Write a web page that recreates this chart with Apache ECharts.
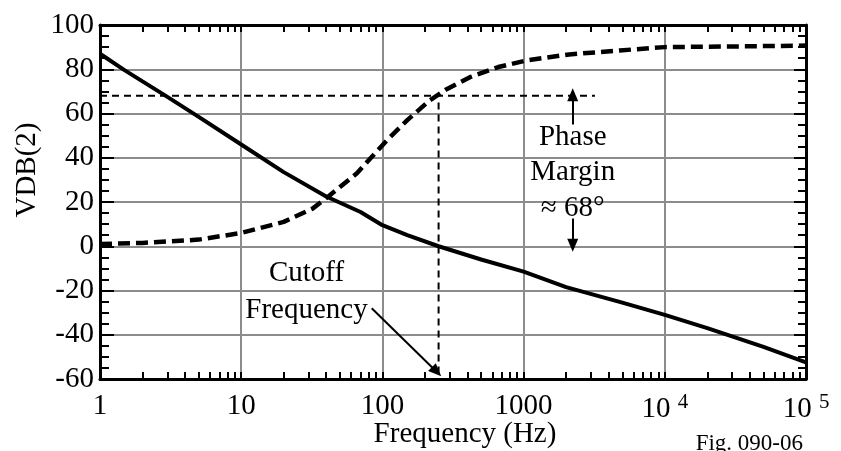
<!DOCTYPE html>
<html><head><meta charset="utf-8">
<script src="https://cdn.jsdelivr.net/npm/echarts@6/dist/echarts.min.js"></script>
<style>html,body{margin:0;padding:0;background:#fff}#c{width:841px;height:451px}</style>
</head><body><div id="c"></div><script>
// Magnitude curve (VDB(2), dB) vs frequency (Hz)
const magFreq = [1, 1.5, 2, 3, 5, 10, 20, 40, 70, 100, 150, 250, 500, 1000, 2000, 5000, 10000, 20000, 50000, 100000];
const magDb   = [87, 79.5, 74.5, 67.5, 58.5, 46, 33.5, 22.5, 15.5, 9.5, 5, 0, -6, -11.5, -18.5, -25.5, -31, -37, -45.5, -52.5];
// Phase curve (degrees) vs frequency (Hz)
const phaseFreq = [1, 2, 5, 10, 20, 32, 41, 66, 108, 150, 217, 285, 417, 662, 1050, 2100, 4800, 10000, 30000, 100000];
const phaseDeg  = [1, 1.5, 3, 6, 11, 17, 22.3, 33, 48, 57, 66, 71, 76.4, 81, 84, 86.7, 88.5, 90, 90.3, 90.7];
// Reference lines
const marginFreq = [1, 3200];
const marginVal  = [68, 68];
const cutoffFreq = [250, 250];
const cutoffVal  = [65, -60];
// Annotation texts
const annoText = ['Phase', 'Margin', '\u2248 68\u00b0', 'Cutoff', 'Frequency'];
const annoFreq = [2228, 2228, 2228, 29, 29];
const annoVal  = [49, 33.3, 17.3, -12.3, -28.8];
// Arrows [from, to]
const arrowFrom = [[2228, 55], [2228, 12.5], [84, -28]];
const arrowTo   = [[2228, 68.5], [2228, 0.5], [242, -56.7]];
// Axis ticks
const xTickValues = [1, 10, 100, 1000, 10000, 100000];
const xTickLabels = ['1', '10', '100', '1000', '10 {sup|4}', '10 {sup|5}'];
const yMin = -60, yMax = 100, yStep = 20;
const xLabel = 'Frequency (Hz)';
const yLabel = 'VDB(2)';
const figLabel = 'Fig. 090-06';

const FONT = 'Liberation Serif';
const FS = 29;
const minorFreqs = [];
for (let k = 0; k < 5; k++) for (let d = 2; d <= 9; d++) minorFreqs.push(d * Math.pow(10, k));
const minorLog = minorFreqs.map(v => Math.log10(v));

const chart = echarts.init(document.getElementById('c'));
const grid = {left: 100, right: 35, top: 25, bottom: 72, outerBoundsMode: 'none', containLabel: false};
const axLine = {show: true, onZero: false, lineStyle: {color: '#000', width: 3}};
const noLine = {show: false, onZero: false};
const gridLine = {show: true, lineStyle: {color: '#8c8c8c', width: 2}};
const tickStyle = {color: '#000', width: 2};

function labelFor(v) {
  const r = Math.round(Math.log10(v));
  const idx = xTickValues.findIndex(t => Math.abs(Math.log10(t) - r) < 1e-6);
  return idx >= 0 ? xTickLabels[idx] : '';
}

const option = {
  animation: false,
  backgroundColor: '#fff',
  grid: grid,
  xAxis: [
    {type: 'log', logBase: 10, min: 1, max: 100000, position: 'bottom',
     axisLine: axLine, splitLine: gridLine,
     axisTick: {show: true, inside: true, length: 7, lineStyle: tickStyle},
     axisLabel: {formatter: labelFor, fontFamily: FONT, fontSize: FS, color: '#000', margin: 13,
       rich: {sup: {fontFamily: FONT, fontSize: 21, color: '#000', verticalAlign: 'top', padding: [0, 0, 14, 0]}}},
     name: xLabel, nameLocation: 'middle', nameGap: 41, nameMoveOverlap: false,
     nameTextStyle: {fontFamily: FONT, fontSize: FS, color: '#000', verticalAlign: 'top', padding: [0, 0, 0, 24]}},
    {type: 'log', logBase: 10, min: 1, max: 100000, position: 'top',
     axisLine: axLine, splitLine: {show: false}, axisLabel: {show: false},
     axisTick: {show: true, inside: true, length: 7, lineStyle: tickStyle}},
    {type: 'value', min: 0, max: 5, position: 'bottom',
     axisLine: noLine, splitLine: {show: false}, axisLabel: {show: false},
     axisTick: {show: true, inside: true, length: 7, customValues: minorLog, lineStyle: tickStyle}},
    {type: 'value', min: 0, max: 5, position: 'top',
     axisLine: noLine, splitLine: {show: false}, axisLabel: {show: false},
     axisTick: {show: true, inside: true, length: 7, customValues: minorLog, lineStyle: tickStyle}}
  ],
  yAxis: [
    {type: 'value', min: yMin, max: yMax, interval: yStep, position: 'left',
     axisLine: axLine, splitLine: gridLine,
     axisTick: {show: true, inside: true, length: 14, lineStyle: tickStyle},
     minorTick: {show: true, splitNumber: 4, length: 9, lineStyle: tickStyle},
     axisLabel: {fontFamily: FONT, fontSize: FS, color: '#000', margin: 6},
     name: yLabel, nameLocation: 'middle', nameGap: 58, nameRotate: 90, nameMoveOverlap: false,
     nameTextStyle: {fontFamily: FONT, fontSize: FS, color: '#000', padding: [0, 0, 0, 64]}},
    {type: 'value', min: yMin, max: yMax, interval: yStep, position: 'right',
     axisLine: axLine, splitLine: {show: false}, axisLabel: {show: false},
     axisTick: {show: true, inside: true, length: 12, lineStyle: tickStyle},
     minorTick: {show: true, splitNumber: 4, length: 8, lineStyle: tickStyle}}
  ],
  graphic: [
    {type: 'text', right: 38, bottom: -4, style: {text: figLabel, font: '23px "Liberation Serif"', fill: '#000'}}
  ],
  series: [
    {name: 'margin', type: 'line', xAxisIndex: 0, yAxisIndex: 0, showSymbol: false, symbol: 'none',
     data: marginFreq.map((f, i) => [f, marginVal[i]]),
     lineStyle: {color: '#000', width: 2, type: [7, 5]}, z: 3},
    {name: 'cutoff', type: 'line', xAxisIndex: 0, yAxisIndex: 0, showSymbol: false, symbol: 'none',
     data: cutoffFreq.map((f, i) => [f, cutoffVal[i]]),
     lineStyle: {color: '#000', width: 2, type: [7, 5]}, z: 3},
    {name: 'phase', type: 'line', xAxisIndex: 0, yAxisIndex: 0, showSymbol: false, symbol: 'none',
     data: phaseFreq.map((f, i) => [f, phaseDeg[i]]),
     lineStyle: {color: '#000', width: 4.5, type: [12, 6]}, z: 4},
    {name: 'magnitude', type: 'line', xAxisIndex: 0, yAxisIndex: 0, showSymbol: false, symbol: 'none',
     data: magFreq.map((f, i) => [f, magDb[i]]),
     lineStyle: {color: '#000', width: 4}, z: 5,
     markLine: {silent: true, symbol: ['none', 'triangle'], symbolSize: [11, 13],
       lineStyle: {color: '#000', width: 2, type: 'solid'}, label: {show: false},
       data: arrowFrom.map((p, i) => [{coord: p}, {coord: arrowTo[i]}])}},
    {name: 'annotations', type: 'scatter', xAxisIndex: 0, yAxisIndex: 0, symbolSize: 0,
     itemStyle: {color: '#000', opacity: 1}, z: 6, silent: true,
     data: annoText.map((t, i) => ({name: t, value: [annoFreq[i], annoVal[i]]})),
     label: {show: true, position: [0, 0], align: 'center', verticalAlign: 'middle', formatter: p => p.name,
       fontFamily: FONT, fontSize: FS, color: '#000', textBorderWidth: 0}}
  ]
};
chart.setOption(option);
</script></body></html>
